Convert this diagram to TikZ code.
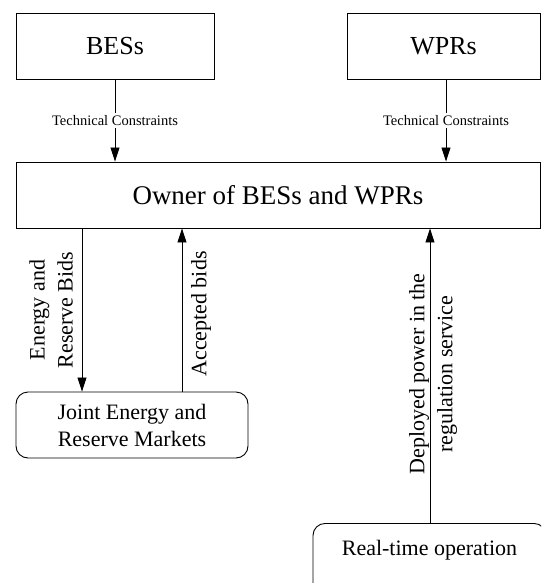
\documentclass[tikz,border=0pt]{standalone}
\usepackage{fontspec}
\setmainfont{Liberation Serif}
\usetikzlibrary{arrows.meta}
\tikzset{
  box/.style={draw, line width=0.9pt, rectangle, inner sep=0pt, font=\fontsize{26}{30}\selectfont},
  rbox/.style={draw, line width=0.9pt, rectangle, rounded corners=12pt, inner sep=0pt, align=center, font=\fontsize{22}{27}\selectfont},
  arr/.style={line width=0.8pt, -{Triangle[length=14pt,width=9pt]}},
  tc/.style={fill=white, inner sep=2pt, font=\fontsize{14.5}{16}\selectfont},
  vlabel/.style={rotate=90, align=center, inner sep=0pt, font=\fontsize{22}{28}\selectfont}
}
\begin{document}
\begin{tikzpicture}[x=1pt, y=-1pt]
\useasboundingbox (0,0) rectangle (541,583);
\clip (0,0) rectangle (541,583);
\node[box, minimum width=198pt, minimum height=66pt] (bes) at (115,46) {BESs};
\node[box, minimum width=193pt, minimum height=66pt] (wpr) at (443.5,46) {WPRs};
\node[box, minimum width=524pt, minimum height=66pt, font=\fontsize{27}{30}\selectfont] (owner) at (278,195) {Owner of BESs and WPRs};
\node[rbox, minimum width=232pt, minimum height=66pt] (joint) at (132,425) {Joint Energy and\\Reserve Markets};
\node[rbox, minimum width=233pt, anchor=north, text height=32pt, text depth=40pt] (rt) at (429.5,523) {Real-time operation};
\coordinate (cw) at (446,0);
\coordinate (cd) at (82,0);
\coordinate (cu) at (182,0);
\coordinate (cr) at (430,0);
\draw[arr] (bes.south) -- node[tc] (tc1) {Technical Constraints} (owner.north -| bes.south);
\draw[arr] (wpr.south -| cw) -- node[tc] (tc2) {Technical Constraints} (owner.north -| cw);
\draw[arr] (owner.south -| cd) -- (joint.north -| cd);
\draw[arr] (joint.north -| cu) -- (owner.south -| cu);
\draw[arr] (rt.north -| cr) -- (owner.south -| cr);
\node[vlabel] (lb1) at (51,310) {Energy and\\Reserve Bids};
\node[vlabel] (lb2) at (201,314) {Accepted bids};
\node[vlabel] (lb3) at (433,374) {Deployed power in the\\regulation service};
\end{tikzpicture}
\end{document}
